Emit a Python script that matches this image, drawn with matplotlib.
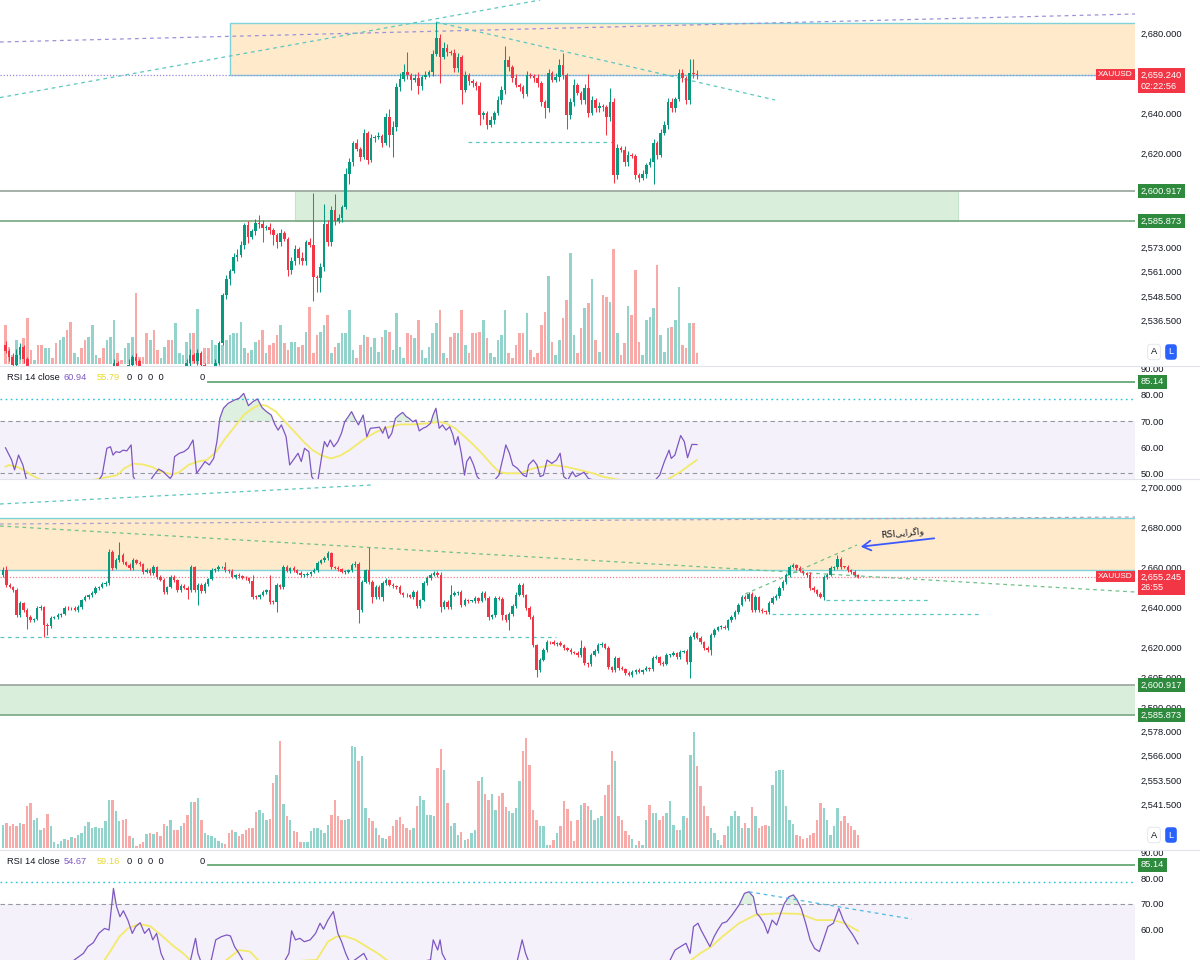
import numpy as np
import matplotlib.pyplot as plt
import matplotlib.transforms as mtransforms
from matplotlib.patches import Rectangle

W, H = 1200, 960

def px(x0, y0, x1, y1):
    return [x0 / W, 1 - y1 / H, (x1 - x0) / W, (y1 - y0) / H]

GREEN = '#089981'
RED = '#f23645'
VGREEN = '#92d3cb'
VRED = '#f7aaa8'
TEAL = '#5cc6c0'
ZONE_EDGE = '#80d2da'
TXT = '#131722'

# ---------------- top chart (XAUUSD, first view) ----------------
top_first_open = 2524
top_close = [
    2521, 2518, 2514, 2519, 2523, 2517, 2511, 2508, 2510, 2506,
    2504, 2507, 2509, 2505, 2502, 2505, 2508, 2506, 2503, 2506,
    2509, 2507, 2504, 2506, 2509, 2511, 2508, 2506, 2509, 2511,
    2515, 2512, 2510, 2511, 2514, 2518, 2516, 2512, 2509, 2507,
    2510, 2508, 2505, 2507, 2510, 2508, 2506, 2509, 2511, 2512,
    2515, 2519, 2516, 2520, 2514, 2511, 2509, 2512, 2515, 2525,
    2549, 2557, 2561, 2568, 2569, 2574, 2584, 2578, 2581, 2585,
    2584.5, 2582.3, 2583, 2581.5, 2579, 2575.7, 2579.8, 2577, 2561.5, 2566,
    2572, 2567.3, 2566, 2575.7, 2574, 2558.2, 2557.5, 2562.8, 2584.3, 2575.7,
    2591.5, 2586, 2587.3, 2593.2, 2609.3, 2615.7, 2624.8, 2622, 2618.2, 2629.8,
    2616.5, 2627.3, 2628, 2628.3, 2624.8, 2638.2, 2629, 2633.2, 2653.2, 2657,
    2660.7, 2659, 2656.5, 2657.5, 2653.7, 2658.2, 2659, 2660.7, 2669.3, 2677.3,
    2668.2, 2672.3, 2670.3, 2670, 2662.7, 2668, 2651.5, 2659, 2656, 2655,
    2653.7, 2639, 2640, 2634, 2636.3, 2639.8, 2646.5, 2651.5, 2666.5, 2663.2,
    2657.3, 2654, 2653, 2649.3, 2659, 2658.5, 2657.3, 2654.8, 2645.3, 2642.3,
    2659.8, 2656.5, 2658.2, 2664, 2659, 2639, 2645.7, 2654, 2649.8, 2646.5,
    2652.3, 2639.8, 2646.5, 2642.3, 2643.7, 2643.2, 2638.2, 2645.7, 2609, 2622.3,
    2621.5, 2615.7, 2619, 2618.7, 2609, 2607.3, 2609.3, 2614, 2615.7, 2624.8,
    2619, 2629.8, 2634, 2645.3, 2642.7, 2647, 2659.8, 2657.3, 2646.5, 2659.8,
    2659.5, 2659.24]
top_wick_up = [
    2, 1, 2, 3, 2, 1, 1, 2, 1, 1,
    1, 2, 1, 1, 2, 1, 1, 2, 1, 1,
    2, 1, 1, 2, 1, 2, 1, 1, 2, 1,
    2, 1, 1, 2, 3, 1, 2, 1, 1, 1,
    2, 1, 1, 2, 1, 1, 2, 1, 2, 1,
    2, 3, 1, 2, 1, 1, 2, 1, 2, 1,
    1, 2, 1, 2, 3, 2, 1, 2, 1, 2,
    4, 2, 1, 2, 1, 1, 2, 1, 1, 2,
    2, 1, 3, 1, 2, 26, 1, 2, 10, 2,
    2, 8, 2, 1, 3, 2, 1, 2, 1, 2,
    1, 2, 1, 2, 1, 2, 4, 3, 2, 3,
    4, 10, 1, 2, 3, 1, 2, 1, 2, 8,
    2, 3, 2, 1, 2, 2, 1, 2, 1, 1,
    1, 2, 1, 1, 2, 1, 2, 2, 7, 2,
    1, 2, 1, 1, 2, 1, 1, 2, 1, 1,
    2, 1, 2, 3, 6, 1, 2, 3, 1, 1,
    2, 7, 2, 1, 2, 1, 1, 7, 2, 2,
    1, 2, 2, 1, 1, 1, 2, 1, 2, 2,
    1, 2, 2, 2, 2, 1, 2, 2, 1, 7,
    7, 2]
top_wick_dn = [
    1, 2, 1, 1, 2, 2, 1, 1, 2, 1,
    2, 1, 1, 2, 1, 1, 2, 1, 1, 2,
    1, 1, 2, 1, 2, 1, 1, 2, 1, 2,
    1, 2, 1, 1, 2, 1, 2, 1, 2, 1,
    1, 2, 1, 1, 2, 1, 1, 2, 1, 1,
    1, 2, 1, 2, 1, 2, 1, 1, 1, 1,
    1, 2, 3, 1, 2, 1, 2, 3, 1, 2,
    2, 7, 1, 2, 5, 3, 2, 1, 3, 2,
    2, 3, 2, 2, 1, 12, 7, 7, 2, 2,
    2, 2, 1, 2, 1, 5, 2, 1, 2, 1,
    2, 1, 2, 1, 2, 1, 6, 11, 2, 2,
    1, 2, 5, 1, 4, 2, 1, 1, 2, 1,
    13, 1, 2, 1, 2, 2, 7, 1, 2, 2,
    2, 5, 2, 2, 1, 2, 1, 2, 2, 2,
    2, 1, 2, 2, 1, 1, 2, 2, 2, 5,
    2, 1, 1, 2, 2, 7, 2, 2, 1, 2,
    2, 2, 1, 2, 2, 2, 9, 2, 4, 2,
    1, 2, 2, 1, 2, 2, 1, 2, 1, 11,
    2, 1, 1, 2, 2, 2, 1, 2, 2, 2,
    2, 2]
top_volume = [
    39, 17, 9, 24, 14, 26, 46, 14, 4, 19,
    19, 16, 16, 6, 21, 24, 27, 34, 42, 11,
    7, 16, 24, 27, 39, 9, 6, 16, 24, 27,
    44, 11, 4, 16, 21, 27, 71, 7, 7, 31,
    24, 34, 14, 6, 17, 24, 24, 41, 11, 9,
    22, 31, 31, 55, 4, 16, 16, 24, 19, 17,
    19, 24, 29, 31, 31, 42, 16, 11, 14, 22,
    24, 34, 11, 19, 21, 29, 39, 21, 14, 22,
    22, 17, 19, 32, 57, 11, 29, 32, 39, 49,
    11, 17, 21, 31, 31, 54, 14, 6, 19, 29,
    27, 17, 26, 12, 27, 34, 32, 14, 51, 17,
    6, 31, 29, 26, 44, 14, 6, 17, 31, 41,
    54, 11, 6, 27, 31, 31, 54, 19, 11, 31,
    31, 32, 44, 26, 11, 7, 24, 29, 54, 11,
    6, 19, 31, 31, 51, 14, 7, 11, 39, 52,
    88, 22, 9, 24, 46, 64, 111, 29, 11, 36,
    56, 61, 85, 24, 12, 69, 67, 62, 115, 31,
    9, 21, 58, 49, 94, 22, 9, 44, 47, 56,
    99, 29, 12, 36, 37, 44, 77, 19, 16, 41,
    41, 11]
top_rsi = [
    (0.0, 59.7), (1.7, 55.0), (2.5, 51.2), (3.6, 56.9), (4.8, 53.1), (5.8, 47.3),
    (8.0, 44.1), (13.7, 44.7), (20.1, 43.8), (25.8, 47.3), (26.7, 49.2), (28.0, 59.5),
    (29.0, 60.1), (29.7, 56.9), (30.5, 58.2), (31.5, 57.9), (32.5, 58.8), (33.5, 58.5),
    (34.7, 60.8), (35.3, 48.6), (36.6, 45.4), (39.8, 46.7), (41.0, 49.2), (42.3, 51.5),
    (43.6, 50.5), (44.5, 49.2), (45.5, 47.9), (46.1, 49.2), (46.7, 56.3), (48.0, 57.6),
    (49.3, 58.2), (50.5, 59.5), (51.8, 62.7), (52.8, 49.9), (54.1, 52.4), (55.1, 54.4),
    (56.3, 53.1), (57.5, 55.6), (58.4, 62.1), (59.2, 71.0), (60.2, 74.9), (61.5, 76.8),
    (63.3, 78.1), (64.5, 78.7), (65.8, 80.6), (67.1, 75.9), (68.3, 77.4), (69.6, 78.5),
    (70.9, 75.1), (72.1, 73.6), (73.4, 72.3), (74.4, 68.7), (75.3, 66.5), (76.2, 68.5),
    (77.5, 64.0), (78.5, 53.1), (79.8, 55.6), (80.8, 57.6), (81.7, 54.4), (82.6, 59.5),
    (83.8, 58.2), (84.6, 48.6), (86.1, 45.4), (87.4, 56.9), (88.1, 62.1), (88.9, 60.1),
    (89.7, 62.7), (90.7, 60.1), (91.8, 62.1), (92.8, 65.3), (93.7, 69.7), (94.7, 71.7),
    (95.6, 73.6), (96.5, 71.0), (97.5, 68.5), (98.8, 72.3), (99.8, 64.0), (100.8, 67.2),
    (102.0, 67.4), (103.3, 67.6), (104.2, 65.3), (104.9, 67.8), (105.8, 63.3), (106.7, 65.3),
    (107.7, 71.0), (108.7, 72.3), (109.7, 73.3), (110.7, 71.7), (111.5, 71.0), (112.5, 69.7),
    (113.4, 70.4), (114.3, 66.2), (115.3, 67.2), (116.3, 67.8), (117.4, 69.1), (118.1, 72.3),
    (118.9, 74.9), (119.8, 67.2), (120.7, 68.5), (121.7, 66.5), (122.7, 67.8), (123.6, 64.6),
    (124.2, 60.8), (125.0, 64.0), (125.9, 57.6), (126.8, 49.2), (127.4, 54.4), (128.3, 56.3),
    (129.3, 53.1), (130.3, 48.6), (133.1, 44.1), (136.3, 49.2), (137.6, 56.9), (138.2, 60.8),
    (139.2, 57.6), (140.1, 53.1), (141.4, 51.8), (143.0, 49.2), (143.9, 48.6), (144.5, 53.1),
    (145.8, 55.0), (146.8, 53.1), (147.7, 48.6), (148.6, 49.2), (149.6, 55.0), (150.9, 53.7),
    (152.2, 55.0), (153.2, 57.6), (154.2, 48.6), (155.3, 47.3), (156.6, 50.5), (157.5, 48.6),
    (159.8, 50.3), (161.0, 47.9), (169.9, 44.1), (179.5, 47.3), (180.7, 49.2), (182.0, 54.4),
    (183.3, 58.8), (183.9, 55.6), (184.9, 56.9), (186.5, 64.4), (187.5, 62.1), (188.4, 55.9),
    (189.6, 61.0), (191.0, 60.94)]
top_rsi_ma = [
    (0.0, 52.4), (1.0, 53.1), (3.6, 52.1), (5.5, 50.8), (7.4, 49.0), (9.9, 47.3),
    (23.9, 47.3), (30.9, 49.2), (32.8, 51.8), (35.3, 53.6), (37.9, 53.3), (40.4, 52.4),
    (42.9, 50.5), (46.1, 49.5), (48.0, 50.3), (50.5, 53.1), (53.1, 54.4), (55.6, 55.0),
    (58.2, 58.2), (60.7, 63.3), (63.3, 67.8), (65.8, 72.3), (68.3, 74.9), (70.2, 76.2),
    (72.1, 75.9), (74.7, 73.6), (77.2, 69.7), (79.8, 65.9), (82.3, 62.1), (84.8, 58.8),
    (87.4, 56.7), (89.9, 55.6), (92.5, 56.7), (95.0, 58.8), (97.5, 61.4), (100.1, 64.0),
    (102.6, 65.9), (105.2, 67.4), (109.0, 68.7), (112.8, 68.7), (116.6, 69.1), (119.8, 69.7),
    (121.7, 69.1), (124.2, 67.2), (126.8, 64.0), (129.3, 60.8), (131.8, 57.2), (134.4, 53.1),
    (136.3, 50.5), (138.2, 49.9), (142.0, 49.9), (145.8, 51.8), (150.9, 53.1), (154.7, 52.4),
    (158.5, 51.2), (162.3, 49.9), (164.9, 48.6), (169.9, 47.3), (182.6, 47.3), (186.5, 50.5),
    (189.0, 53.1), (191.0, 55.0)]

# ---------------- bottom chart (XAUUSD, second view) ----------------
bot_first_open = 2656
bot_close = [
    2658.5, 2651, 2650, 2648.5, 2636, 2641.8, 2638.5, 2635.2, 2633.5, 2634,
    2639.3, 2640, 2631, 2630.5, 2634.3, 2635.2, 2636, 2636.3, 2639.7, 2639.3,
    2639.5, 2638.5, 2640.2, 2643.5, 2645.2, 2646, 2646.8, 2649.3, 2650, 2651.3,
    2651.8, 2667.7, 2659.3, 2663.5, 2666, 2662.7, 2661, 2659.3, 2663.5, 2661.8,
    2661.3, 2657.7, 2658.5, 2657, 2660.2, 2655.2, 2653.5, 2647.7, 2650.2, 2655.2,
    2653.5, 2648.5, 2650.5, 2649.5, 2648.5, 2660.2, 2648.5, 2651, 2648, 2651.3,
    2654, 2658.3, 2659, 2659.8, 2660.2, 2658.5, 2657.8, 2655.2, 2656, 2655.5,
    2654.7, 2654.3, 2653, 2645.2, 2645, 2646, 2647.7, 2648.5, 2642.7, 2642.5,
    2651, 2650, 2660.2, 2658, 2659.3, 2658.5, 2656.8, 2656, 2656, 2656.3,
    2657.7, 2658.5, 2661.8, 2663.5, 2664.3, 2666.8, 2660.2, 2659.7, 2659, 2657.7,
    2657.7, 2658.5, 2661, 2661.3, 2638.5, 2652.7, 2658.5, 2652.7, 2645.2, 2650.2,
    2645.2, 2651.8, 2653.5, 2651, 2650.7, 2650.2, 2646.8, 2646, 2645.8, 2645.2,
    2647.3, 2640.7, 2643.5, 2651.8, 2654.3, 2656, 2656.8, 2656, 2640.2, 2642.7,
    2640.2, 2646, 2646.8, 2647.7, 2641, 2643.5, 2643, 2643.2, 2644.3, 2643,
    2646.8, 2644.3, 2635.2, 2636, 2644.3, 2644, 2636, 2633.5, 2636.3, 2640.3,
    2646, 2651, 2646, 2639.3, 2635.2, 2621, 2608.5, 2613.5, 2618.5, 2622.7,
    2622.3, 2621.3, 2621.8, 2621, 2619.7, 2618.5, 2617.7, 2616.8, 2616, 2619.3,
    2611.8, 2611.3, 2615.8, 2618, 2621, 2621.3, 2619.3, 2610.2, 2608.5, 2614.3,
    2609.3, 2609, 2606.8, 2606, 2607.3, 2608.3, 2607.7, 2608.5, 2609.3, 2609,
    2614.3, 2615.2, 2612, 2611.3, 2616, 2616.2, 2616.8, 2615.2, 2617.7, 2617.8,
    2612.3, 2625.2, 2626.8, 2624.3, 2622.7, 2619.3, 2618.5, 2626, 2628.5, 2630,
    2630.2, 2629.5, 2633.5, 2635.2, 2637.7, 2641, 2645.2, 2644, 2646.3, 2638.5,
    2645.2, 2638.5, 2638, 2637.7, 2641.8, 2644.3, 2645.5, 2649.3, 2652.7, 2656,
    2660.2, 2661, 2659.3, 2658, 2656.8, 2656, 2649.3, 2648.5, 2646.3, 2645.2,
    2655.2, 2656, 2659.3, 2660.2, 2664, 2660.2, 2660, 2658.5, 2657.7, 2656,
    2655.245]
bot_wick_up = [
    1.5, 2, 1, 0.5, 1, 1, 0.5, 1, 1, 0.5,
    1, 1, 0.5, 1, 1, 0.5, 1, 0.5, 1, 1,
    0.5, 1, 1, 0.5, 1, 0.5, 1, 1, 0.5, 1,
    1, 1.3, 1, 1, 6.7, 1, 0.5, 1, 1, 0.5,
    1, 0.5, 1, 1, 1, 0.5, 1, 1, 0.5, 1,
    1, 0.5, 1, 1, 1, 1, 0.5, 1, 1, 1,
    0.5, 1, 0.5, 1, 0.5, 2.5, 0.5, 1, 0.5, 1,
    0.5, 1, 0.5, 3, 1, 0.5, 1, 0.5, 7.5, 1,
    1, 0.5, 1, 1, 0.5, 1, 0.5, 1, 0.5, 1,
    0.5, 1, 1, 0.5, 1, 1, 0.7, 0.5, 1, 0.5,
    1, 0.5, 1, 1.7, 1, 1, 0.5, 11.5, 1, 1,
    1, 1, 1, 0.5, 1, 0.5, 1, 0.5, 1, 0.5,
    1, 1, 0.5, 1, 1, 1, 1, 1, 1.5, 1,
    1, 5, 1, 0.5, 1, 1, 0.5, 0.5, 1, 0.5,
    1, 1, 1, 0.5, 1, 1, 1, 0.5, 1, 1,
    1.7, 1, 1, 0.5, 1, 1, 0.5, 1, 1, 1,
    0.5, 1, 0.5, 1, 0.5, 0.5, 1, 0.5, 1, 4.2,
    1, 0.5, 1, 1, 1, 1.4, 0.5, 1, 0.5, 1,
    0.5, 1, 0.5, 1, 1, 0.5, 1, 0.5, 1, 0.5,
    1, 1, 0.5, 1, 1, 0.5, 1, 0.5, 1, 0.5,
    1, 1, 1, 0.5, 1, 0.5, 1, 1, 1, 0.5,
    1, 1, 0.5, 1, 1, 1, 1, 1, 1, 1,
    1, 0.5, 1, 0.5, 1, 1, 1, 1, 1, 1,
    1, 1, 0.7, 1, 0.5, 0.5, 1.3, 1, 0.5, 1,
    1, 1, 1, 0.5, 2, 1, 0.5, 1, 0.5, 1,
    0.5]
bot_wick_dn = [
    1, 1, 0.5, 1, 1, 1, 1, 6, 1, 1,
    0.5, 1, 6, 4.5, 1, 0.5, 1, 1, 0.5, 1,
    1, 0.5, 1, 1, 0.5, 1, 1, 0.5, 1, 0.5,
    1, 1, 1, 0.5, 1, 1, 0.5, 1, 1, 0.5,
    1, 1, 0.5, 1, 1, 1, 0.5, 1, 1, 0.5,
    1, 1, 1, 0.5, 4.5, 1, 1, 7.5, 1, 1,
    1, 0.5, 1, 1, 0.5, 1, 1, 0.5, 1, 1,
    0.5, 1, 1, 1, 1, 1, 0.5, 1, 1, 1,
    4.8, 1, 1, 0.5, 1, 1, 0.5, 1, 1, 0.5,
    1, 0.5, 1, 0.5, 1, 1, 1, 0.5, 1, 0.5,
    1, 0.5, 1, 1, 6.5, 1, 0.5, 1, 3, 1,
    1, 2.2, 1, 0.5, 1, 1, 0.5, 1, 1, 0.5,
    1, 1, 1, 0.5, 1, 1, 0.5, 1, 2.5, 1,
    1, 1, 0.5, 1, 1, 0.5, 1, 0.5, 1, 1,
    0.5, 1, 1.7, 1, 1, 0.5, 2.5, 1, 5, 1,
    1, 0.5, 1, 1, 1, 1, 3.3, 1, 0.5, 1,
    1, 0.5, 1, 0.5, 1, 0.5, 1, 0.5, 1, 1,
    1, 1.3, 1, 0.5, 1, 1, 0.5, 1, 1, 0.8,
    1, 0.5, 1, 0.5, 1, 1, 0.5, 1, 0.5, 1,
    1, 0.5, 1, 1, 0.5, 1, 0.5, 1, 1, 0.5,
    1, 8, 1, 0.5, 1, 1, 1, 2.5, 1, 0.5,
    1, 0.5, 1, 1, 1, 1, 0.5, 1, 1, 1,
    1, 1, 0.9, 1, 1, 0.5, 1, 1, 1, 1,
    1, 0.5, 1, 0.5, 1, 1, 1, 1, 1, 0.5,
    1.7, 1, 0.5, 1, 1, 1, 0.5, 1, 1, 1,
    0.5]
bot_volume = [
    23, 25, 22, 24, 22, 25, 24, 42, 45, 28, 30, 18, 20, 34, 22, 6,
    4, 7, 9, 8, 11, 10, 13, 15, 22, 26, 20, 21, 20, 20, 27, 48, 48, 37, 27, 28, 29, 12, 10,
    2, 4, 6, 14, 15, 14, 16, 12, 24, 22, 28, 18, 18, 22, 25, 33, 46, 46, 50, 28, 15, 13, 12, 10, 7,
    5, 4, 15, 18, 16, 12, 14, 18, 20, 20, 36, 38, 35, 28, 29, 65, 73, 107, 44, 32, 28, 17, 16,
    6, 6, 6, 17, 20, 20, 18, 15, 23, 33, 48, 32, 28, 28, 29, 102, 101, 87, 92, 40, 30, 27, 20, 13, 10,
    9, 12, 22, 28, 31, 24, 20, 18, 20, 42, 52, 48, 33, 33, 32, 80, 99, 78, 45, 22, 25, 13, 16, 8, 9,
    15, 18, 67, 71, 54, 48, 54, 38, 52, 55,
    41, 37, 35, 40, 67, 97, 110, 83, 38, 28, 22, 22, 3, 3, 8, 15, 22, 47, 39, 27, 7, 28,
    43, 45, 42, 38, 28, 30, 32, 53, 63, 97, 87, 32, 28, 17, 13, 9, 3, 7, 3, 28, 43, 35, 35, 28, 32,
    35, 47, 23, 18, 18, 32, 30, 93, 116, 82, 62, 42, 32, 20, 15, 8, 3, 13, 22, 32, 37, 32, 20, 25, 20, 41,
    32, 20, 22, 23, 22, 63, 77, 78, 78, 42, 28, 24, 13, 12, 9, 10, 13, 15, 28, 45, 40, 28, 13, 22, 40,
    27, 32, 25, 22, 18, 13]
bot_rsi = [
    (0.0, 45.0), (15.4, 43.3), (23.5, 51.0), (24.8, 53.6), (26.4, 55.1), (28.0, 58.7),
    (29.7, 60.6), (31.0, 60.0), (32.3, 76.0), (33.2, 69.0), (34.2, 65.1), (35.2, 67.4),
    (36.5, 63.8), (37.8, 58.7), (38.8, 61.3), (40.1, 62.8), (41.4, 58.7), (42.7, 60.6),
    (43.8, 56.2), (44.9, 58.7), (46.2, 51.0), (47.9, 45.9), (54.4, 45.9), (56.3, 56.8),
    (57.0, 51.0), (58.4, 45.9), (60.9, 48.5), (62.2, 56.2), (63.8, 57.4), (65.4, 58.1),
    (66.5, 57.7), (67.7, 53.6), (69.0, 51.0), (70.6, 47.2), (82.0, 47.2), (83.6, 51.0),
    (84.4, 59.7), (85.5, 56.2), (86.8, 56.8), (88.1, 55.5), (89.8, 56.2), (91.4, 58.7),
    (92.7, 62.6), (93.7, 60.3), (95.0, 63.8), (96.6, 67.1), (97.9, 58.7), (99.0, 55.5),
    (100.2, 51.0), (101.5, 47.2), (105.5, 51.0), (106.7, 47.8), (112.8, 45.9), (125.0, 48.5),
    (125.8, 56.2), (127.1, 52.3), (127.8, 56.2), (128.4, 51.0), (129.9, 47.2), (150.2, 47.2),
    (151.8, 56.2), (152.8, 51.0), (154.3, 45.9), (194.1, 45.9), (196.5, 52.3), (198.1, 53.6),
    (199.7, 54.9), (200.9, 51.0), (201.9, 61.3), (203.2, 62.6), (204.1, 60.0), (205.4, 56.8),
    (206.7, 53.6), (207.9, 57.4), (209.0, 60.0), (210.3, 62.6), (211.6, 63.2), (213.2, 65.8),
    (215.2, 69.6), (216.8, 74.1), (218.1, 74.7), (219.4, 72.8), (220.4, 66.4), (221.3, 65.1),
    (222.5, 62.6), (223.6, 58.7), (224.9, 63.8), (226.2, 61.9), (227.4, 66.4), (228.5, 70.3),
    (229.8, 72.8), (231.1, 73.5), (232.2, 71.5), (233.4, 68.3), (234.7, 62.6), (236.0, 56.2),
    (237.3, 52.9), (238.7, 51.7), (239.9, 56.2), (241.2, 61.3), (242.8, 62.6), (244.4, 68.3),
    (245.7, 63.8), (246.8, 61.3), (248.5, 58.1), (250.0, 54.67)]
bot_rsi_ma = [
    (0.0, 43.3), (28.4, 45.9), (31.6, 52.3), (34.0, 57.4), (36.5, 60.6), (39.7, 62.3),
    (43.0, 61.5), (46.2, 58.1), (49.5, 54.2), (52.7, 51.0), (55.2, 47.8), (64.1, 47.2),
    (69.0, 52.3), (72.2, 51.7), (75.5, 47.2), (91.7, 48.5), (95.0, 55.5), (97.4, 57.4),
    (99.8, 57.7), (103.1, 56.2), (106.3, 53.6), (109.6, 51.0), (112.8, 47.8), (200.6, 47.8),
    (203.8, 51.0), (207.1, 53.6), (210.3, 57.4), (215.2, 62.6), (220.0, 65.8), (226.5, 66.4),
    (233.0, 66.2), (237.9, 63.8), (242.8, 63.8), (246.0, 62.6), (250.0, 59.7)]

top_ticks = [2680, 2640, 2620, 2573, 2561, 2548.5, 2536.5]
bot_ticks = [2700, 2680, 2660, 2640, 2620, 2605, 2590, 2578, 2566, 2553.5, 2541.5]
supply_zone = (2659.0, 2685.0)
supply_zone_bot = (2658.5, 2684.5)
demand_lo, demand_hi = 2585.873, 2600.917
top_last, top_timer = 2659.240, '02:22:56'
bot_last, bot_timer = 2655.245, '26:55'
rsi_level = 85.14
divergence_label = 'RSI' + '\ufbfd\ufbfe\ufe8d\ufeae\ufb94\ufe8d\ufeed'

plt.rcParams['font.family'] = ['Liberation Sans', 'DejaVu Sans']
fig = plt.figure(figsize=(12, 9.6), dpi=100)
fig.patch.set_facecolor('white')


def bare(ax):
    for s in ax.spines.values():
        s.set_visible(False)
    ax.set_xticks([])
    ax.yaxis.tick_right()
    ax.tick_params(axis='y', length=0, pad=4.3, labelsize=6.7, labelcolor=TXT)


def label_box(ax, y, text, fc, fs=6.7, x_px=1141):
    tr = mtransforms.blended_transform_factory(ax.transAxes, ax.transData)
    ax.text(x_px / 1135, y, text, transform=tr, ha='left', va='center', fontsize=fs,
            color='white', linespacing=1.25,
            bbox=dict(boxstyle='square,pad=0.28', fc=fc, ec='none'), zorder=20)


def sym_label(ax, y):
    tr = mtransforms.blended_transform_factory(ax.transAxes, ax.transData)
    ax.text(1133 / 1135, y, 'XAUUSD', transform=tr, ha='right', va='center', fontsize=6,
            color='white', bbox=dict(boxstyle='square,pad=0.28', fc=RED, ec='none'), zorder=20)


def al_buttons(ax, y):
    tr = mtransforms.blended_transform_factory(ax.transAxes, ax.transData)
    ax.text(1154 / 1135, y, 'A', transform=tr, ha='center', va='center', fontsize=6.7, color=TXT,
            bbox=dict(boxstyle='round,pad=0.35', fc='white', ec='#e0e3eb', lw=0.6), zorder=20)
    ax.text(1171 / 1135, y, 'L', transform=tr, ha='center', va='center', fontsize=6.7, color='white',
            bbox=dict(boxstyle='round,pad=0.35', fc='#2962ff', ec='none'), zorder=20)


def draw_candles(ax, first_open, close, up, dn, width):
    c = np.array(close, dtype=float)
    o = np.r_[first_open, c[:-1]]
    hi = np.maximum(o, c) + np.array(up)
    lo = np.minimum(o, c) - np.array(dn)
    rise = c >= o
    col = np.where(rise, GREEN, RED)
    x = np.arange(len(c))
    ax.vlines(x, lo, hi, colors=col, lw=0.75, zorder=5)
    ax.bar(x, np.maximum(np.abs(c - o), 0.35), width, bottom=np.minimum(o, c),
           color=col, lw=0, zorder=6)
    return rise


def draw_volume(ax, vol, rise, width):
    x = np.arange(len(vol))
    ax.bar(x, vol, width, color=np.where(rise, VGREEN, VRED), lw=0)


def rsi_pane(ax, xlim, ylim, ticks, rsi, ma, x_start, dashed_levels):
    ax.set_xlim(xlim)
    ax.set_ylim(ylim)
    bare(ax)
    ax.set_yticks(ticks)
    ax.set_yticklabels(['%.2f' % t for t in ticks])
    ax.axhspan(30, 70, color='#7e57c2', alpha=0.08, lw=0)
    for lvl in dashed_levels:
        ax.axhline(lvl, color='#9598a1', lw=0.8, ls=(0, (4, 3)))
    ax.axhline(78.6, color='#26c6da', lw=1, ls=(0, (1.2, 2.5)))
    ax.axhline(rsi_level, xmin=x_start / 1135, color='#66a874', lw=1.3)
    t, v = np.array(rsi).T
    tm, vm = np.array(ma).T
    ax.fill_between(t, v, 70, where=v > 70, interpolate=True, color='#4caf50', alpha=0.18, lw=0)
    ax.plot(tm, vm, color='#f3ea6a', lw=1.3)
    ax.plot(t, v, color='#7e57c2', lw=0.9)
    label_box(ax, rsi_level, '%.2f' % rsi_level, '#2e8b3e')


def header(y_px, value, ma_value):
    y = 1 - y_px / H
    fig.text(7 / W, y, 'RSI 14 close', fontsize=6.7, color=TXT, va='center')
    fig.text(64 / W, y, value, fontsize=6.7, color='#7e57c2', va='center')
    fig.text(97 / W, y, ma_value, fontsize=6.7, color='#e6d92e', va='center')
    fig.text(127 / W, y, '0  0  0  0', fontsize=6.7, color=TXT, va='center')
    fig.text(200 / W, y, '0', fontsize=6.7, color=TXT, va='center')


# ================= TOP CHART =================
txlim = (-1.52, 312.0)
ax_v1 = fig.add_axes(px(0, 0, 1135, 366))
ax_v1.set_xlim(txlim)
ax_v1.set_ylim(-2, 364)
ax_v1.axis('off')
ax1 = fig.add_axes(px(0, 0, 1135, 366))
ax1.patch.set_visible(False)
ax1.set_xlim(txlim)
ax1.set_ylim(2513.5, 2696.5)
bare(ax1)
ax1.set_yticks(top_ticks)
ax1.set_yticklabels(['{:,.3f}'.format(t) for t in top_ticks])

ax1.add_patch(Rectangle((62.0, supply_zone[0]), 400, supply_zone[1] - supply_zone[0],
                        fc='#ffeacc', ec=ZONE_EDGE, lw=1.0, zorder=1))
ax1.add_patch(Rectangle((80.0, demand_lo), 183.1, demand_hi - demand_lo,
                        fc='#d9efdc', ec='#c5e3ca', lw=0.8, zorder=1))
ax1.axhline(demand_hi, color='#9faaa2', lw=1.3, zorder=2)
ax1.axhline(demand_lo, color='#7fae88', lw=1.3, zorder=2)
ax1.axhline(top_last, color='#9b86e0', lw=0.9, ls=(0, (1, 1.5)), zorder=2)
ax1.plot([-1.52, 312.0], [2675.5, 2689.5], color='#9c92d8', lw=0.9, ls=(0, (3, 3)), zorder=2)
ax1.plot([-1.52, 147.7], [2647.7, 2696.5], color=TEAL, lw=0.9, ls=(0, (3, 3)), zorder=2)
ax1.plot([118.9, 212.6], [2685.5, 2646.5], color=TEAL, lw=0.9, ls=(0, (3, 3)), zorder=2)
ax1.plot([127.8, 167.8], [2625.5, 2625.5], color=TEAL, lw=0.9, ls=(0, (3, 3)), zorder=2)

rise1 = draw_candles(ax1, top_first_open, top_close, top_wick_up, top_wick_dn, 0.72)
draw_volume(ax_v1, top_volume, rise1, 0.72)

sym_label(ax1, top_last)
label_box(ax1, top_last - 3.2, '{:,.3f}\n{}'.format(top_last, top_timer), RED)
label_box(ax1, demand_hi, '{:,.3f}'.format(demand_hi), '#2e8b3e')
label_box(ax1, demand_lo, '{:,.3f}'.format(demand_lo), '#2e8b3e')
al_buttons(ax1, 2520.5)

ax_r1 = fig.add_axes(px(0, 366, 1135, 479))
rsi_pane(ax_r1, txlim, (47.7, 91.15), [90, 80, 70, 60, 50], top_rsi, top_rsi_ma, 208, [70, 50])
header(378, '60.94', '55.79')

# ================= BOTTOM CHART =================
bxlim = (-0.877, 330.99)
ax_v2 = fig.add_axes(px(0, 480, 1135, 850))
ax_v2.set_xlim(bxlim)
ax_v2.set_ylim(-2, 368)
ax_v2.axis('off')
ax2 = fig.add_axes(px(0, 480, 1135, 850))
ax2.patch.set_visible(False)
ax2.set_xlim(bxlim)
ax2.set_ylim(2518.5, 2703.5)
bare(ax2)
ax2.set_yticks(bot_ticks)
ax2.set_yticklabels(['{:,.3f}'.format(t) for t in bot_ticks])

ax2.add_patch(Rectangle((-5, supply_zone_bot[0]), 400, supply_zone_bot[1] - supply_zone_bot[0],
                        fc='#ffeacc', ec=ZONE_EDGE, lw=1.0, zorder=1))
ax2.add_patch(Rectangle((-5, demand_lo), 400, demand_hi - demand_lo,
                        fc='#d9efdc', ec='none', zorder=1))
ax2.axhline(demand_hi, color='#9faaa2', lw=1.3, zorder=2)
ax2.axhline(demand_lo, color='#7fae88', lw=1.3, zorder=2)
ax2.axhline(bot_last, color='#ef7f8c', lw=0.9, ls=(0, (1, 1.5)), zorder=2)
ax2.plot([-0.877, 330.99], [2681.5, 2685.0], color='#a9a3cc', lw=0.9, ls=(0, (3, 3)), zorder=2)
ax2.plot([-0.877, 107.9], [2691.5, 2701.0], color=TEAL, lw=0.9, ls=(0, (3, 3)), zorder=2)
ax2.plot([-0.877, 330.99], [2680.5, 2647.5], color='#72c08a', lw=0.9, ls=(0, (3, 3)), zorder=2)
ax2.plot([-0.877, 161.7], [2625.25, 2625.25], color=TEAL, lw=0.9, ls=(0, (3, 3)), zorder=2)
ax2.plot([217.0, 249.7], [2646.5, 2671.0], color='#72c08a', lw=0.9, ls=(0, (3, 3)), zorder=2)
ax2.plot([240.6, 271.0], [2643.5, 2643.5], color=TEAL, lw=0.9, ls=(0, (3, 3)), zorder=2)
ax2.plot([224.9, 285.7], [2636.5, 2636.5], color=TEAL, lw=0.9, ls=(0, (3, 3)), zorder=2)
ax2.annotate('', xy=(250.0, 2670.0), xytext=(273.1, 2674.5),
             arrowprops=dict(arrowstyle='->,head_length=0.6,head_width=0.35',
                             color='#3d5afe', lw=1.3), zorder=8)
ax2.text(262.9, 2677.2, divergence_label, family=['DejaVu Sans'], fontsize=6.5, color=TXT,
         ha='center', va='center', rotation=5, zorder=8)

rise2 = draw_candles(ax2, bot_first_open, bot_close, bot_wick_up, bot_wick_dn, 0.7)
draw_volume(ax_v2, bot_volume, rise2, 0.7)

sym_label(ax2, bot_last)
label_box(ax2, bot_last - 3.0, '{:,.3f}\n{}'.format(bot_last, bot_timer), RED)
label_box(ax2, demand_hi, '{:,.3f}'.format(demand_hi), '#2e8b3e')
label_box(ax2, demand_lo, '{:,.3f}'.format(demand_lo), '#2e8b3e')
al_buttons(ax2, 2526.0)

ax_r2 = fig.add_axes(px(0, 850, 1135, 960))
rsi_pane(ax_r2, bxlim, (48.46, 90.77), [90, 80, 70, 60], bot_rsi, bot_rsi_ma, 208, [70])
ax_r2.plot([218.1, 265.8], [74.7, 64.2], color='#4fb8e6', lw=0.9, ls=(0, (3, 3)))
header(861, '54.67', '59.16')

# pane separators
for yy in (366, 479, 850):
    fig.add_artist(plt.Line2D([0, 1], [1 - yy / H, 1 - yy / H], color='#e0e3eb', lw=0.8))

fig.savefig('out.png', dpi=100, facecolor='white')
